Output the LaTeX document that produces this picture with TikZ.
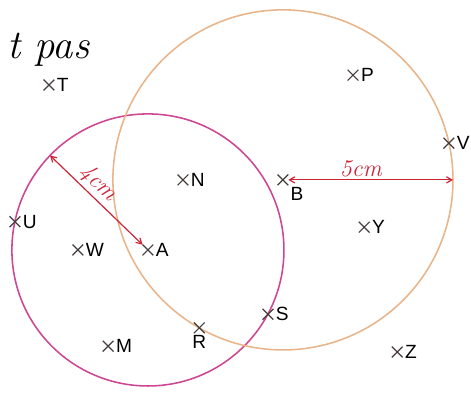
\documentclass[tikz,border=0pt]{standalone}
\usepackage{fontspec}
\setsansfont{Liberation Sans}
\usetikzlibrary{arrows,backgrounds,shapes.misc}

\begin{document}
\begin{tikzpicture}[auto]
\definecolor{pinkpen}{RGB}{205,70,145}
\definecolor{tanpen}{RGB}{232,180,138}
\definecolor{redpen}{RGB}{205,35,55}
\definecolor{graypen}{RGB}{70,60,60}
\tikzstyle{pt} = [cross out, draw=graypen, line width=1pt, minimum size=8pt, inner sep=0pt]
\tikzstyle{every label} = [font=\sffamily\fontsize{16}{16}\selectfont, inner sep=1pt, label distance=1pt]
\tikzstyle{circ} = [line width=1.3pt]
\tikzstyle{measure} = [draw=redpen, line width=1pt, <->, >=angle 60]
\tikzstyle{hand} = [text=redpen, font=\itshape\fontsize{20}{20}\selectfont, inner sep=2pt]

\useasboundingbox (0,0) rectangle (13.85,-11.56);

\node[anchor=base west, inner sep=0pt, font=\itshape\fontsize{34}{36}\selectfont] (title) at (0.2,-1.72) {t pas};

% points
\node[pt, label=right:T] (T) at (1.44,-2.50) {};
\node[pt, label=right:P] (P) at (10.38,-2.21) {};
\node[pt, label=right:V] (V) at (13.20,-4.21) {};
\node[pt, label=right:N] (N) at (5.38,-5.29) {};
\node[pt, label=below right:B] (B) at (8.32,-5.29) {};
\node[pt, label=right:U] (U) at (0.44,-6.52) {};
\node[pt, label=right:W] (W) at (2.29,-7.35) {};
\node[pt, label=right:A] (A) at (4.35,-7.35) {};
\node[pt, label=right:Y] (Y) at (10.71,-6.68) {};
\node[pt, label=right:S] (S) at (7.88,-9.24) {};
\node[pt, label=right:M] (M) at (3.18,-10.18) {};
\node[pt, label=below:R] (R) at (5.86,-9.64) {};
\node[pt, label=right:Z] (Z) at (11.68,-10.35) {};

% circles
\begin{scope}[on background layer]
\draw[circ, pinkpen] (A) circle (4);
\draw[circ, tanpen] (B) circle (5);
\end{scope}

% radii
\coordinate (a rim) at ([shift={(136:4)}]A);
\coordinate (b rim) at ([shift={(0:5)}]B);
\path[measure] (a rim) -- node[hand, sloped, above, pos=0.42] {4cm} (A);
\path[measure] (B) -- node[hand, above, pos=0.44] {5cm} (b rim);
\end{tikzpicture}
\end{document}
